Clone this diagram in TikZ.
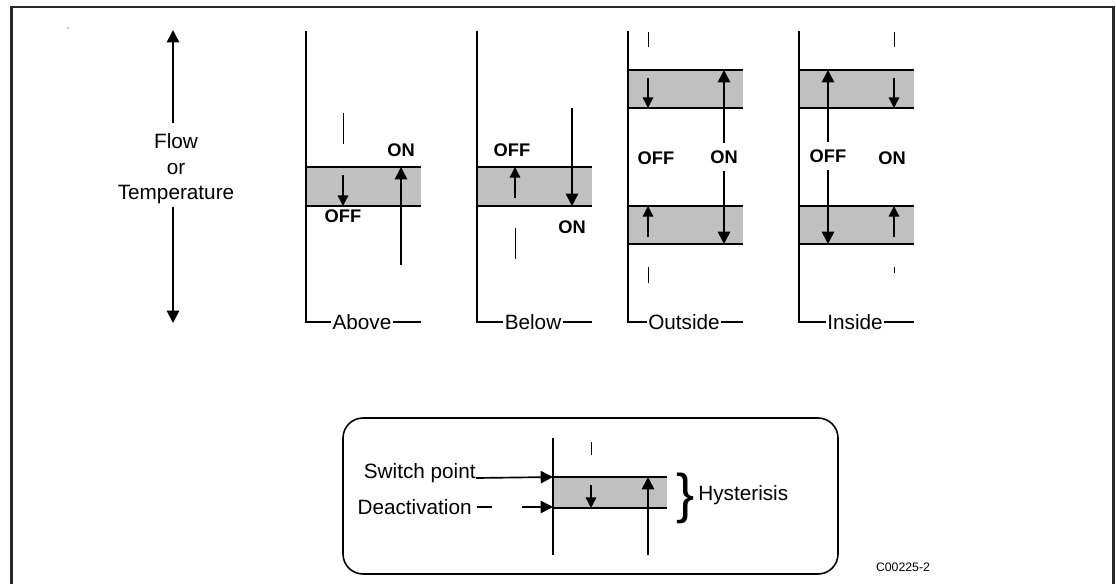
\documentclass[tikz,border=0pt]{standalone}
\usepackage{fontspec}
\setmainfont{Liberation Sans}
\usetikzlibrary{arrows.meta,positioning}
\definecolor{hyst}{RGB}{192,192,192}
\definecolor{frm}{RGB}{40,40,40}
\tikzset{
  axis/.style={line width=0.9pt},
  onl/.style={line width=1.6pt},
  offl/.style={line width=0.9pt},
  tck/.style={line width=0.55pt},
  big/.style={-{Triangle[length=7pt,width=7pt]}, line width=0.95pt},
  small/.style={-{Triangle[length=6pt,width=6pt]}, line width=0.75pt},
  lbl/.style={font=\fontsize{11.8}{14}\selectfont, inner sep=1pt, fill=white},
  txt/.style={font=\fontsize{11.8}{14.5}\selectfont, inner sep=0pt},
  sw/.style={font=\fontsize{10.4}{12}\selectfont\bfseries, inner sep=4pt},
}
\newcommand{\panel}[3]{%
  \draw[axis] (#1,31) -- (#1,322) -- (#1+115,322);
  \node[lbl] (#2) at (#1+56,322) {#3};}
\newcommand{\band}[3]{\fill[hyst] (#1,#2) rectangle (#1+115,#3);}
\newcommand{\lvl}[3]{\draw[#3] (#1,#2) -- (#1+115,#2);}

\begin{document}
\begin{tikzpicture}[x=0.02cm, y=-0.02cm]
  \useasboundingbox (0,0) rectangle (1116,583);
  \draw[frm, line width=1.5pt] (11.5,590) -- (11.5,7) -- (1113.5,7) -- (1113.5,590);
  \fill (68,28) circle (0.6);
  % flow / temperature
  \node[txt, align=center, inner ysep=0pt] (flow) at (176,169)
    {Flow\\or\\Temperature};
  \coordinate (fTop) at (173,30);
  \coordinate (fBot) at (173,323);
  \draw[big, shorten <=6pt] (flow.north -| fTop) -- (fTop);
  \draw[big, shorten <=1.5pt] (flow.south -| fBot) -- (fBot);
  % above
  \band{306}{167}{206}
  \lvl{306}{167}{onl} \lvl{306}{206}{offl}
  \panel{306}{above}{Above}
  \draw[tck] (343,113) -- (343,144);
  \draw[small] (343,175) -- (343,206);
  \node[sw] (offA) at (343,216) {OFF};
  \node[sw] (onA) at (401,150) {ON};
  \draw[big] (401,265) -- (401,167);
  % below
  \band{477}{167}{206}
  \lvl{477}{167}{offl} \lvl{477}{206}{onl}
  \panel{477}{below}{Below}
  \node[sw] (offB) at (512,150) {OFF};
  \draw[small] (515,198) -- (515,167);
  \draw[big] (572,108) -- (572,206);
  \node[sw] (onB) at (572,227) {ON};
  \draw[tck] (515,228) -- (515,259);
  % outside
  \band{628}{70}{108} \band{628}{206}{244}
  \lvl{628}{70}{onl} \lvl{628}{108}{offl}
  \lvl{628}{206}{offl} \lvl{628}{244}{onl}
  \panel{628}{outside}{Outside}
  \draw[tck] (648,32) -- (648,47);
  \draw[tck] (648,267) -- (648,283);
  \draw[small] (648,78) -- (648,108);
  \draw[small] (648,237) -- (648,206);
  \node[sw] (offO) at (656,158) {OFF};
  \node[sw] (onO) at (724,157) {ON};
  \coordinate (oTop) at (724,70);
  \coordinate (oBot) at (724,244);
  \draw[big] (onO) -- (oTop);
  \draw[big] (onO) -- (oBot);
  % inside
  \band{799}{70}{108} \band{799}{206}{244}
  \lvl{799}{70}{offl} \lvl{799}{108}{onl}
  \lvl{799}{206}{onl} \lvl{799}{244}{offl}
  \panel{799}{inside}{Inside}
  \draw[tck] (894,32) -- (894,47);
  \draw[tck] (894,267) -- (894,273);
  \draw[small] (894,78) -- (894,108);
  \draw[small] (894,237) -- (894,206);
  \node[sw] (offI) at (828,156) {OFF};
  \node[sw] (onI) at (892,158) {ON};
  \coordinate (iTop) at (828,70);
  \coordinate (iBot) at (828,244);
  \draw[big] (offI) -- (iTop);
  \draw[big] (offI) -- (iBot);
  % legend
  \draw[line width=0.9pt, rounded corners=0.4cm] (343,418) rectangle (838,574);
  \fill[hyst] (553,477) rectangle (667,508);
  \draw[onl] (553,477) -- (667,477);
  \draw[offl] (553,508) -- (667,508);
  \draw[axis] (553,438) -- (553,555);
  \draw[tck] (591,442) -- (591,455);
  \draw[small] (591,485) -- (591,508);
  \draw[big] (648,555) -- (648,477);
  \node[txt, anchor=base east] (swp) at (476,478) {Switch point};
  \coordinate (spt) at (553,477);
  \draw[big] (swp.base east) -- (spt);
  \node[txt, anchor=east] (deact) at (472,507) {Deactivation};
  \coordinate (dpt) at (553,507);
  \draw[offl] ([xshift=3pt]deact.east) -- ++(15,0);
  \draw[big] (522,507) -- (dpt);
  \node[inner sep=0pt, font=\fontsize{31}{31}\selectfont] (brc) at (686,498) {\}};
  \node[txt, anchor=west] (hys) at (698,495) {Hysterisis};
  \node[font=\fontsize{7}{8}\selectfont] (code) at (903,567) {C00225-2};
\end{tikzpicture}
\end{document}
